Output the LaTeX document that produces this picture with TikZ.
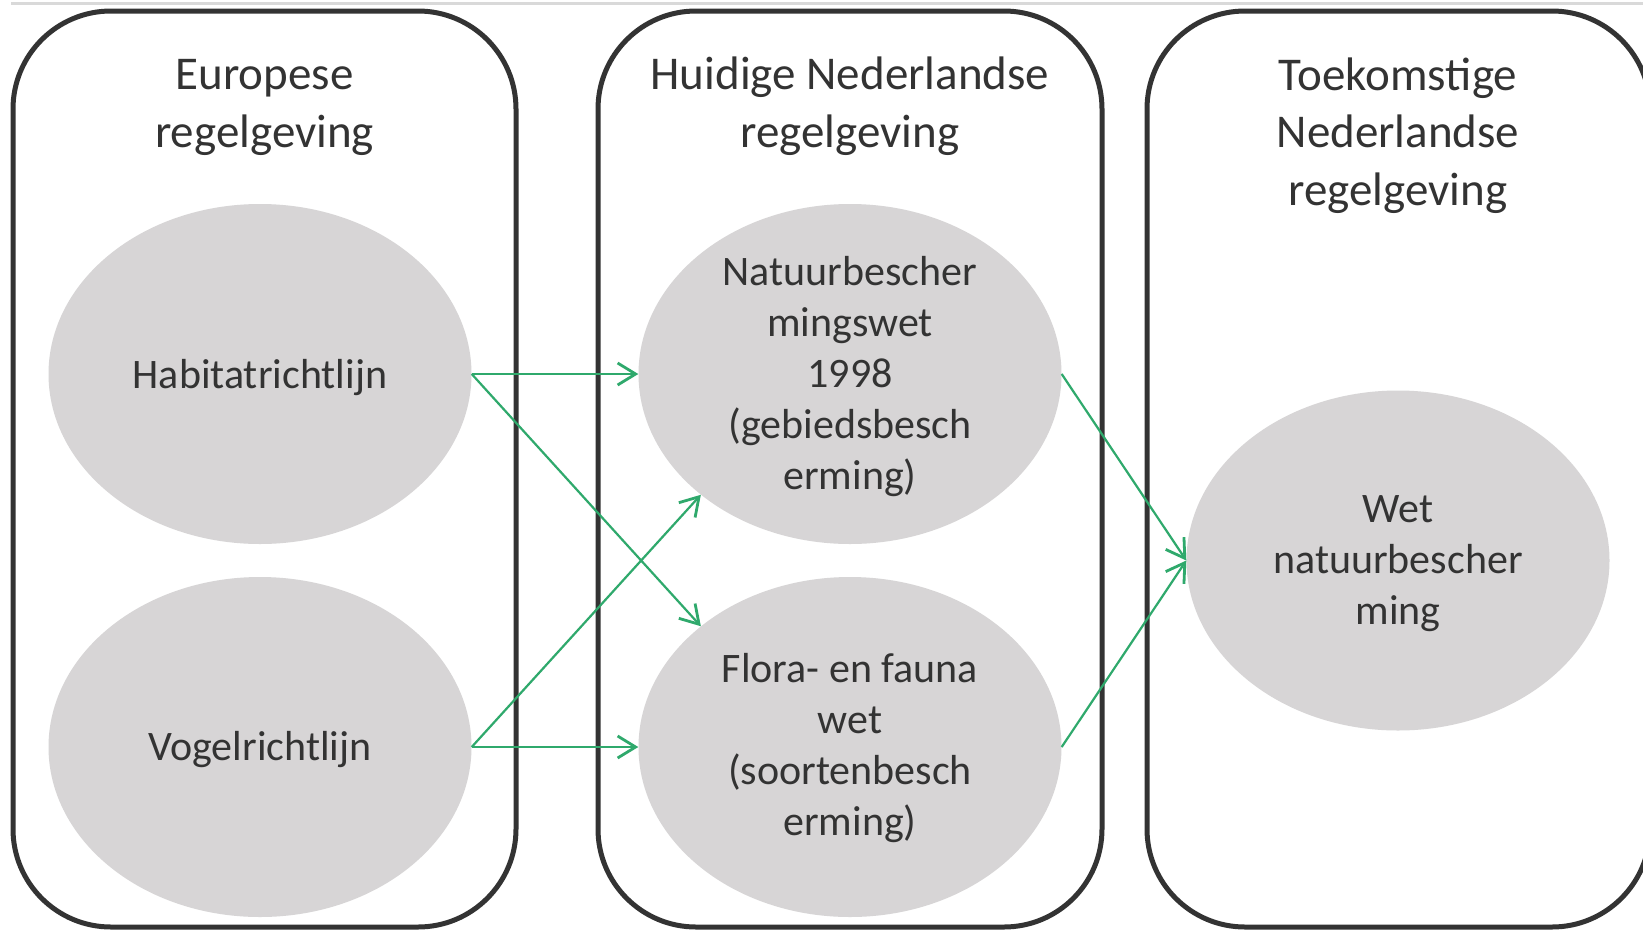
\documentclass[tikz,border=0pt]{standalone}
\usepackage{fontspec}
\setmainfont{Carlito}
\usetikzlibrary{shapes.geometric,arrows.meta}
\definecolor{ellgray}{RGB}{215,213,214}
\definecolor{boxline}{RGB}{51,51,51}
\definecolor{txt}{RGB}{51,51,51}
\definecolor{arrgreen}{RGB}{47,169,108}
\definecolor{topline}{RGB}{217,217,217}
\tikzset{
  colbox/.style={draw=boxline, line width=5pt, rounded corners=98pt},
  ell/.style={ellipse, fill=ellgray, draw=none, minimum width=423pt, minimum height=340pt, inner sep=0pt},
  title/.style={anchor=base, align=center, text=txt, font=\fontsize{47}{57.5}\selectfont, inner sep=0pt},
  etext/.style={anchor=base, align=center, text=txt, font=\fontsize{42}{51}\selectfont, inner sep=0pt},
  conn/.style={draw=arrgreen, line width=2.2pt, -{Straight Barb[length=18pt,width=22pt,line width=2.8pt]}}
}
\begin{document}
\begin{tikzpicture}[x=1pt,y=-1pt]
\useasboundingbox (0,0) rectangle (1643,930);
\clip (0,0) rectangle (1643,930);
\fill[white] (0,0) rectangle (1643,930);
\draw[topline, line width=3pt] (11,3.5) -- (1643,3.5);
% column boxes
\draw[colbox] (13,11) rectangle (516,927);
\draw[colbox] (598,11) rectangle (1102,927);
\draw[colbox] (1147,11) rectangle (1650,927);
% titles (base = last line baseline)
\node[title] (t1) at (264.5,147) {Europese\\regelgeving};
\node[title] (t2) at (850,147) {Huidige Nederlandse\\regelgeving};
\node[title] (t3) at (1398,205) {Toekomstige\\Nederlandse\\regelgeving};
% ellipses
\node[ell] (H) at (260,374) {};
\node[ell] (V) at (260,747) {};
\node[ell] (N) at (850,374) {};
\node[ell] (F) at (850,747) {};
\node[ell] (W) at (1398,560.5) {};
% ellipse texts
\node[etext] (Ht) at (260,388) {Habitatrichtlijn};
\node[etext] (Vt) at (260,760) {Vogelrichtlijn};
\node[etext] (Nt) at (850,489) {Natuurbescher\\mingswet\\1998\\(gebiedsbesch\\erming)};
\node[etext] (Ft) at (850,835) {Flora- en fauna\\wet\\(soortenbesch\\erming)};
\node[etext] (Wt) at (1398,624) {Wet\\natuurbescher\\ming};
% connectors
\draw[conn] (H.east) -- (N.west);
\draw[conn] (H.east) -- (F.141);
\draw[conn] (V.east) -- (N.219);
\draw[conn] (V.east) -- (F.west);
\draw[conn] (N.east) -- (W.west);
\draw[conn] (F.east) -- (W.west);
\end{tikzpicture}
\end{document}
